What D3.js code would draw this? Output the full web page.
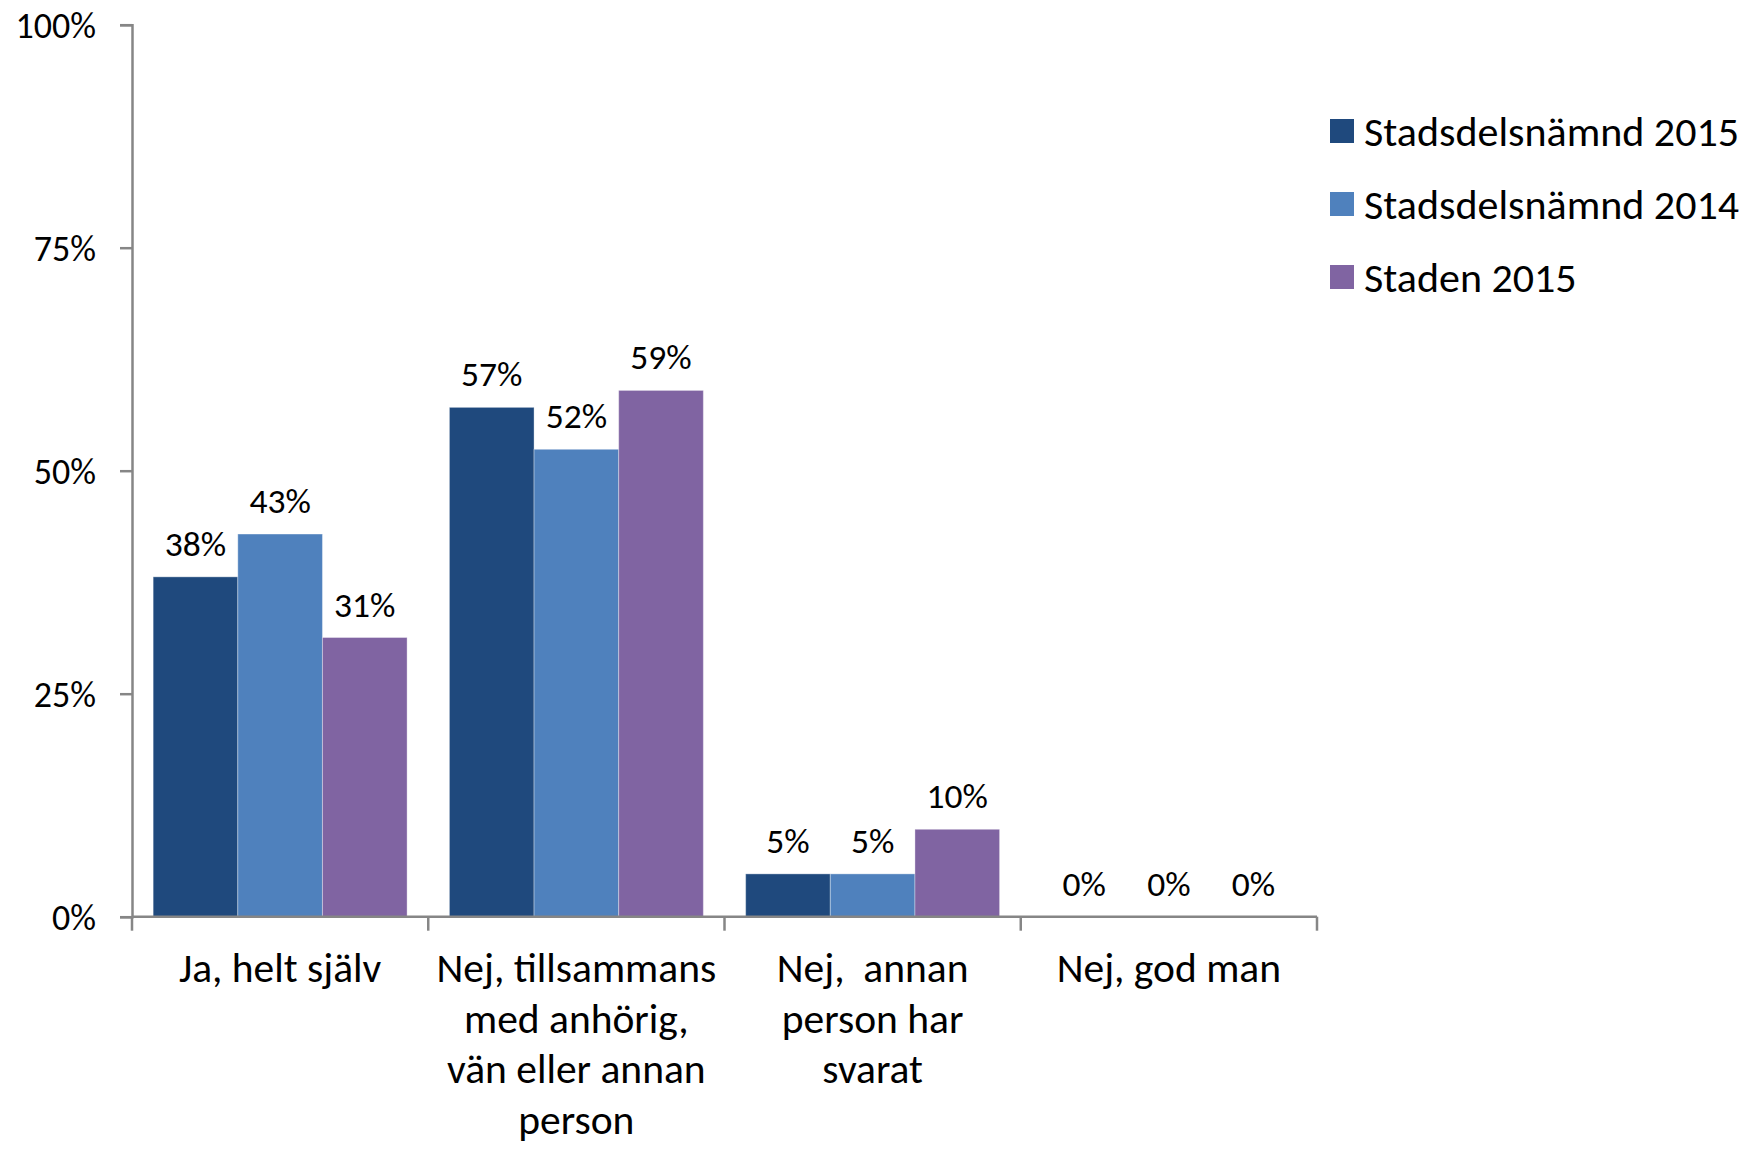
<!DOCTYPE html>
<html>
<head>
<meta charset="utf-8">
<script src="https://d3js.org/d3.v7.min.js"></script>
<style>
  html, body { margin: 0; padding: 0; background: #fff; }
  svg text { font-family: Carlito, Calibri, Lato, sans-serif; fill: #000; }
</style>
</head>
<body>
<div id="js-chart"></div>
<script>
//  Data
var categories = ["Ja, helt själv", "Nej, tillsammans med anhörig, vän eller annan person", "Nej,  annan person har svarat", "Nej, god man"];
var categoryLines = [
  ["Ja, helt själv"],
  ["Nej, tillsammans", "med anhörig,", "vän eller annan", "person"],
  ["Nej,  annan", "person har", "svarat"],
  ["Nej, god man"]
];
var seriesNames = ["Stadsdelsnämnd 2015", "Stadsdelsnämnd 2014", "Staden 2015"];
var sdn2015 = [0.381, 0.571, 0.048, 0];
var sdn2014 = [0.429, 0.524, 0.048, 0];
var staden2015 = [0.313, 0.590, 0.098, 0];
var yTicks = [0, 0.25, 0.5, 0.75, 1];

var seriesColors = ["#1F497D", "#4F81BD", "#8064A2"];

//  Elementary SVG variables
var width = 1749;
var height = 1149;
var plotLeft = 132;
var plotRight = 1317;
var plotTop = 24.7;
var plotBottom = 916.7;

var svg;
var x0, x1, y;

// ---------------------------------------------------------------------------------- //

function Setup()
{
    svg = d3.select("#js-chart")
      .append("svg")
      .attr("width", width)
      .attr("height", height);

    x0 = d3.scaleBand()
      .domain(categories)
      .range([plotLeft, plotRight])
      .paddingInner(1 / 7)
      .paddingOuter(1 / 14);

    x1 = d3.scaleBand()
      .domain(seriesNames)
      .range([0, x0.bandwidth()]);

    y = d3.scaleLinear()
      .domain([0, 1])
      .range([plotBottom, plotTop]);
}
// ---------------------------------------------------------------------------------- //

function DrawBars()
{
    var allSeries = [sdn2015, sdn2014, staden2015];

    var rows = categories.map(function(c, i) {
      return seriesNames.map(function(s, j) {
        return { cat: c, series: s, value: allSeries[j][i], color: seriesColors[j] };
      });
    });

    var groups = svg.selectAll("g.group")
      .data(rows)
      .enter().append("g")
      .attr("class", "group")
      .attr("transform", function(d, i) { return "translate(" + x0(categories[i]) + ",0)"; });

    groups.selectAll("rect")
      .data(function(d) { return d; })
      .enter().append("rect")
      .attr("x", function(d) { return x1(d.series); })
      .attr("y", function(d) { return y(d.value); })
      .attr("width", x1.bandwidth())
      .attr("height", function(d) { return plotBottom - y(d.value); })
      .attr("fill", function(d) { return d.color; })
      .attr("stroke", "rgba(255,255,255,0.35)")
      .attr("stroke-width", 1);

    // value labels
    groups.selectAll("text.val")
      .data(function(d) { return d; })
      .enter().append("text")
      .attr("class", "val")
      .attr("x", function(d) { return x1(d.series) + x1.bandwidth() / 2; })
      .attr("y", function(d) { return y(d.value) - 21; })
      .attr("text-anchor", "middle")
      .style("font-size", "35.5px")
      .text(function(d) { return d3.format(".0%")(d.value); });
}
// ---------------------------------------------------------------------------------- //

function DrawAxes()
{
    var axisColor = "#868686";

    // y axis
    var yAxis = svg.append("g")
      .attr("transform", "translate(" + plotLeft + ",0)")
      .call(d3.axisLeft(y).tickValues(yTicks).tickFormat(d3.format(".0%")).tickSize(12).tickPadding(24));

    yAxis.select(".domain").attr("stroke", axisColor).attr("stroke-width", 2.5);
    yAxis.selectAll(".tick line").attr("stroke", axisColor).attr("stroke-width", 2.5);
    yAxis.selectAll(".tick text")
      .style("font-size", "36px")
      .attr("dy", "0.35em");

    // x axis line + category separators
    var bounds = categories.map(function(c) { return x0(c) - x0.step() * x0.paddingInner() / 2; });
    bounds.push(plotRight);

    svg.append("line")
      .attr("x1", plotLeft)
      .attr("x2", plotRight)
      .attr("y1", plotBottom)
      .attr("y2", plotBottom)
      .attr("stroke", axisColor)
      .attr("stroke-width", 2.5);

    svg.selectAll("line.sep")
      .data(bounds)
      .enter().append("line")
      .attr("class", "sep")
      .attr("x1", function(d) { return d; })
      .attr("x2", function(d) { return d; })
      .attr("y1", plotBottom)
      .attr("y2", plotBottom + 14)
      .attr("stroke", axisColor)
      .attr("stroke-width", 2.5);

    // category labels
    var cl = svg.selectAll("text.cat")
      .data(categoryLines)
      .enter().append("text")
      .attr("class", "cat")
      .attr("text-anchor", "middle")
      .attr("xml:space", "preserve")
      .style("white-space", "pre")
      .style("font-size", "41.5px");

    cl.selectAll("tspan")
      .data(function(d, i) { return d.map(function(t) { return { t: t, i: i }; }); })
      .enter().append("tspan")
      .attr("x", function(d) { return x0(categories[d.i]) + x0.bandwidth() / 2; })
      .attr("y", function(d, k) { return 982 + k * 50.5; })
      .text(function(d) { return d.t; });
}
// ---------------------------------------------------------------------------------- //

function DrawLegend()
{
    var legend = svg.selectAll("g.legend")
      .data(seriesNames)
      .enter().append("g")
      .attr("class", "legend")
      .attr("transform", function(d, i) { return "translate(1330," + (131 + i * 73) + ")"; });

    legend.append("rect")
      .attr("x", 0)
      .attr("y", -12)
      .attr("width", 24)
      .attr("height", 24)
      .attr("fill", function(d, i) { return seriesColors[i]; });

    legend.append("text")
      .attr("x", 34)
      .attr("y", 0)
      .attr("dy", "0.35em")
      .style("font-size", "42px")
      .text(function(d) { return d; });
}
// ---------------------------------------------------------------------------------- //

Setup();
DrawBars();
DrawAxes();
DrawLegend();
</script>
</body>
</html>
